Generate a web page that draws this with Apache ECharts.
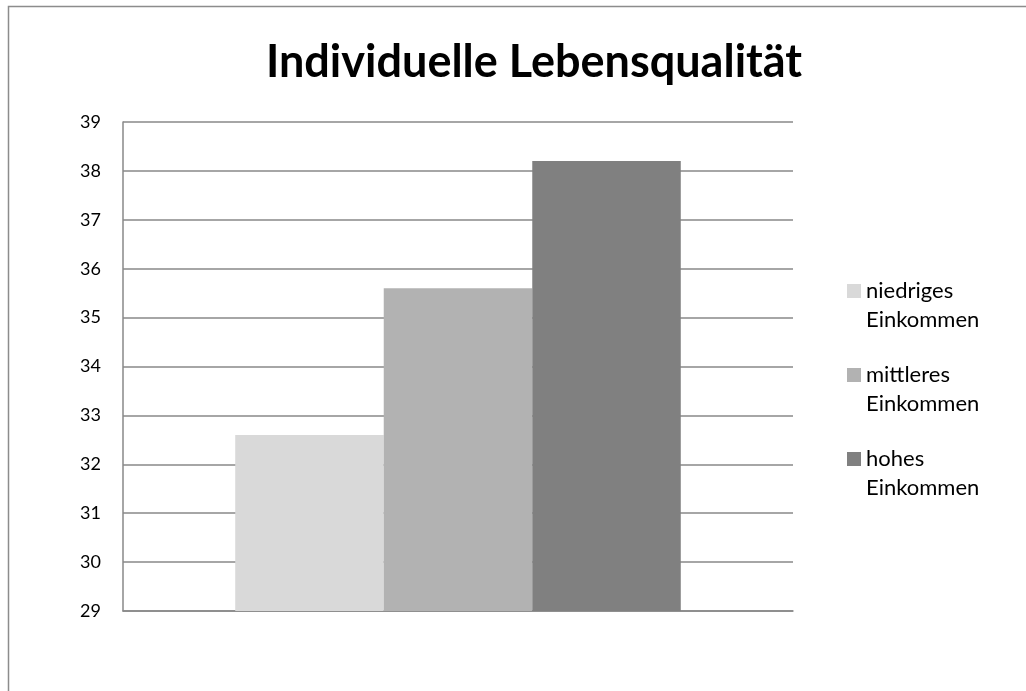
<!DOCTYPE html>
<html>
<head>
<meta charset="utf-8">
<script src="https://cdn.jsdelivr.net/npm/echarts@6/dist/echarts.min.js"></script>
<style>
html,body{margin:0;padding:0;background:#fff;}
#chart{width:1026px;height:691px;}
</style>
</head>
<body>
<div id="chart"></div>
<script>
var titleText = 'Individuelle Lebensqualität';
var categories = [''];
var seriesNames = ['niedriges Einkommen', 'mittleres Einkommen', 'hohes Einkommen'];
var seriesValues = [[32.6], [35.6], [38.2]];
var seriesColors = ['#d9d9d9', '#b2b2b2', '#808080'];
var yMin = 29, yMax = 39, yStep = 1;

var chart = echarts.init(document.getElementById('chart'), null, {renderer: 'canvas'});
var font = 'Lato, "Open Sans", sans-serif';
var series = seriesNames.map(function (n, i) {
  return {
    name: n,
    type: 'bar',
    data: seriesValues[i],
    barGap: '0%',
    barCategoryGap: '33.5%',
    itemStyle: {color: seriesColors[i]},
    emphasis: {disabled: true},
    animation: false
  };
});
chart.setOption({
  animation: false,
  backgroundColor: '#fff',
  graphic: [{
    type: 'rect',
    shape: {x: 8.5, y: 6.5, width: 1100, height: 800},
    style: {fill: 'none', stroke: '#8c8c8c', lineWidth: 1.5},
    silent: true
  }],
  title: {
    text: titleText,
    left: 529,
    top: 35,
    textAlign: 'center',
    textStyle: {fontFamily: font, fontWeight: 'bold', fontSize: 45, color: '#000'}
  },
  legend: {
    orient: 'vertical',
    left: 842,
    top: 271,
    itemWidth: 14,
    itemHeight: 42,
    itemGap: 26,
    icon: 'path://M0,0h10v10h-10z M0,30h0.001v0.001z',
    formatter: function (n) { return n.replace(' ', '\n'); },
    textStyle: {fontFamily: font, fontSize: 22, lineHeight: 29, color: '#000'},
    selectedMode: false
  },
  grid: {left: 123, top: 122, width: 670, height: 489, containLabel: false},
  xAxis: {
    type: 'category',
    data: categories,
    axisLine: {show: true, lineStyle: {color: '#888', width: 1.5}},
    axisTick: {show: false},
    axisLabel: {show: false}
  },
  yAxis: {
    type: 'value',
    min: yMin, max: yMax, interval: yStep,
    axisLine: {show: true, lineStyle: {color: '#888', width: 1.5}},
    axisTick: {show: false},
    axisLabel: {fontFamily: font, fontSize: 18, color: '#000', margin: 22},
    splitLine: {lineStyle: {color: '#888', width: 1.5}}
  },
  series: series
});
</script>
</body>
</html>
